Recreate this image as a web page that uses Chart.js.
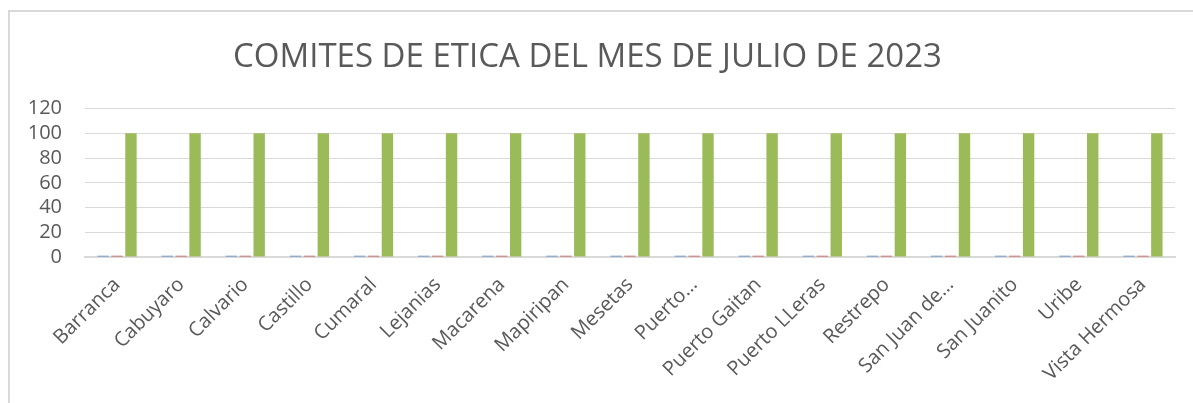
<!DOCTYPE html>
<html>
<head>
<meta charset="utf-8">
<script src="https://cdn.jsdelivr.net/npm/chart.js@4"></script>
<style>
  body { margin: 0; background: #fff; }
  #frame {
    position: absolute; left: 8px; top: 10px; width: 1200px; height: 400px;
    border-left: 2px solid #d9d9d9; border-top: 2px solid #d9d9d9;
  }
  #wrap { position: absolute; left: 0; top: 0; width: 1193px; height: 403px; }
</style>
</head>
<body>
<div id="frame"></div>
<div id="wrap"><canvas id="chart"></canvas></div>
<script>
const categories = [
  "Barranca", "Cabuyaro", "Calvario", "Castillo", "Cumaral", "Lejanias",
  "Macarena", "Mapiripan", "Mesetas", "Puerto…", "Puerto Gaitan",
  "Puerto LLeras", "Restrepo", "San Juan de…", "San Juanito", "Uribe",
  "Vista Hermosa"
];
const serie1 = [1, 1, 1, 1, 1, 1, 1, 1, 1, 1, 1, 1, 1, 1, 1, 1, 1];
const serie2 = [1, 1, 1, 1, 1, 1, 1, 1, 1, 1, 1, 1, 1, 1, 1, 1, 1];
const serie3 = [100, 100, 100, 100, 100, 100, 100, 100, 100, 100, 100, 100, 100, 100, 100, 100, 100];
const yTicks = [0, 20, 40, 60, 80, 100, 120];

const font = "'Open Sans', 'DejaVu Sans', sans-serif";
const grey = "#595959";

new Chart(document.getElementById("chart"), {
  type: "bar",
  data: {
    labels: categories,
    datasets: [
      { label: "Serie 1", data: serie1, backgroundColor: "#4F81BD" },
      { label: "Serie 2", data: serie2, backgroundColor: "#C0504D" },
      { label: "Serie 3", data: serie3, backgroundColor: "#9BBB59" }
    ]
  },
  options: {
    responsive: true,
    maintainAspectRatio: false,
    animation: false,
    datasets: { bar: { categoryPercentage: 0.65, barPercentage: 0.82 } },
    layout: { padding: { top: 8, right: 18, bottom: 0, left: 0 } },
    plugins: {
      legend: { display: false },
      tooltip: { enabled: false },
      title: {
        display: true,
        text: "COMITES DE ETICA DEL MES DE JULIO DE 2023",
        color: grey,
        font: { family: font, size: 33, weight: "normal" },
        padding: { top: 30, bottom: 31 }
      }
    },
    scales: {
      x: {
        grid: { display: false, drawTicks: false },
        border: { color: "#d9d9d9", width: 2 },
        ticks: {
          color: grey, font: { family: font, size: 20 },
          minRotation: 45, maxRotation: 45, autoSkip: false, padding: 16
        },
        afterFit: (s) => { s.height = 146; }
      },
      y: {
        min: 0, max: 120,
        afterBuildTicks: (s) => { s.ticks = yTicks.map(v => ({ value: v })); },
        grid: { color: "#d9d9d9", drawTicks: false },
        border: { display: false },
        ticks: { color: grey, font: { family: font, size: 20 }, padding: 23, autoSkip: false },
        afterFit: (s) => { s.width = 85; }
      }
    }
  }
});
</script>
</body>
</html>
